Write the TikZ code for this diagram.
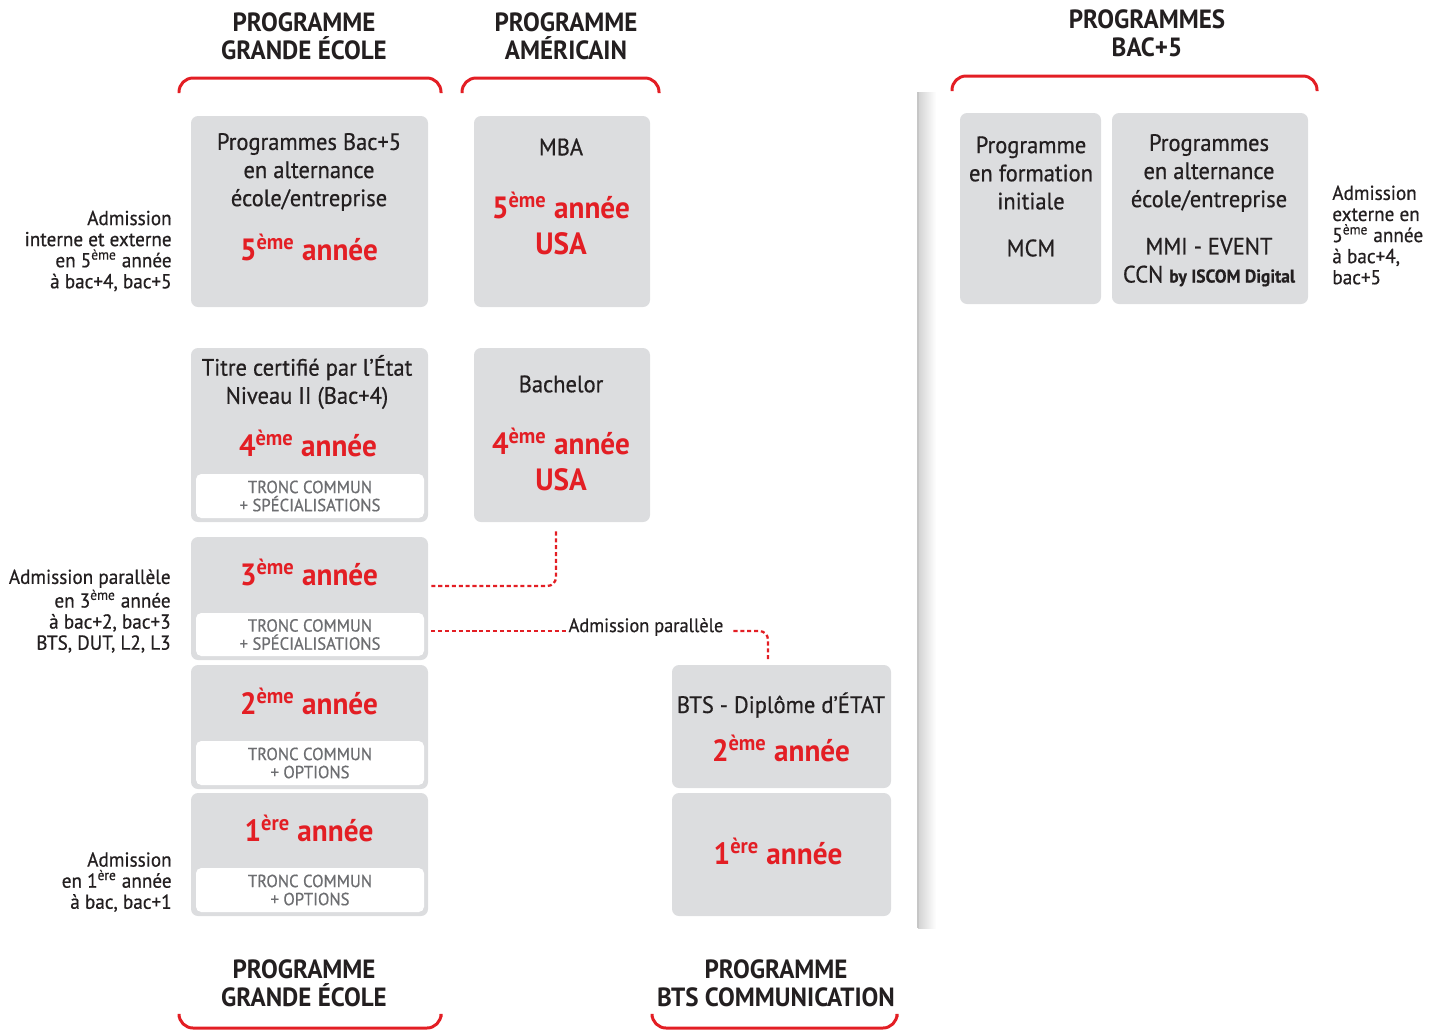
\documentclass[tikz,border=0pt]{standalone}
\usepackage{fontspec}
\setmainfont{PT Sans}[FakeStretch=0.95]
\newfontfamily\medfont{PT Sans}[FakeStretch=0.95, FakeBold=0.6]
\usetikzlibrary{positioning,fit}

\definecolor{iscomred}{HTML}{E31E24}
\definecolor{boxgray}{HTML}{DCDDDF}
\definecolor{inkdark}{HTML}{231F20}
\definecolor{troncgray}{HTML}{6D6E71}

\newcommand\supeme{\textsuperscript{ème}}
\newcommand\supere{\textsuperscript{ère}}

\tikzset{
  gbox/.style={fill=boxgray, rounded corners=4pt, inner sep=0pt},
  wbox/.style={fill=white, rounded corners=3pt, inner sep=0pt},
  txt/.style={text=inkdark, align=center, font=\fontsize{13.5}{16}\medfont, inner sep=0pt},
  annee/.style={text=iscomred, align=center, font=\fontsize{17.5}{20.5}\selectfont\bfseries, inner sep=0pt},
  tronc/.style={text=troncgray, align=center, font=\fontsize{10}{10.3}\medfont, inner sep=0pt},
  titre/.style={text=inkdark, align=center, font=\fontsize{15}{16}\selectfont\bfseries, inner sep=0pt},
  adm/.style={text=inkdark, font=\fontsize{11.5}{12}\medfont, inner sep=0pt},
  bracket/.style={draw=iscomred, line width=1.7pt, rounded corners=8pt},
  dashline/.style={draw=iscomred, line width=1.3pt, dash pattern=on 2.3pt off 1.6pt, rounded corners=5pt},
}

\begin{document}
\begin{tikzpicture}[x=0.02cm, y=-0.02cm]
\useasboundingbox (0,0) rectangle (1436,1029);

% titles and brackets
\node[titre] (t-ge) at (304,36) {PROGRAMME\\GRANDE ÉCOLE};
\node[titre] (t-am) at (566,36) {PROGRAMME\\AMÉRICAIN};
\node[titre] (t-b5) at (1147,33) {PROGRAMMES\\BAC+5};
\node[titre] (b-ge) at (304,983) {PROGRAMME\\GRANDE ÉCOLE};
\node[titre] (b-bts) at (776,983) {PROGRAMME\\BTS COMMUNICATION};
\draw[bracket] (179,93) |- (441,78) -- (441,93);
\draw[bracket] (462,93) |- (659,78) -- (659,93);
\draw[bracket] (952,91) |- (1317,76) -- (1317,91);
\draw[bracket] (179,1017) |- (441,1028) -- (441,1017);
\draw[bracket] (652,1017) |- (897,1028) -- (897,1017);

% separator
\shade[left color=gray!35, right color=white] (918,92) rectangle (936,928);
\draw[gray!45, line width=0.6pt] (918,92) -- (918,928);

% grande ecole
\node[gbox, fit={(191,116) (428,307)}] (ge5) {};
\node[txt] (ge5-t) at (309,172) {Programmes Bac+5\\en alternance\\école/entreprise};
\node[annee] (ge5-a) at (309,247) {5\supeme{} année};

\node[gbox, fit={(191,348) (428,522)}] (ge4) {};
\node[wbox, fit={(196,474) (424,518)}] (ge4-w) {};
\node[txt] (ge4-t) at (307,382) {Titre certifié par l’État\\Niveau II (Bac+4)};
\node[annee] (ge4-a) at (308,443) {4\supeme{} année};
\node[tronc] (ge4-c) at (ge4-w) {TRONC COMMUN\\+ SPÉCIALISATIONS};

\node[gbox, fit={(191,537) (428,660)}] (ge3) {};
\node[wbox, fit={(196,613) (424,656)}] (ge3-w) {};
\node[annee] (ge3-a) at (309,572) {3\supeme{} année};
\node[tronc] (ge3-c) at (ge3-w) {TRONC COMMUN\\+ SPÉCIALISATIONS};

\node[gbox, fit={(191,665) (428,789)}] (ge2) {};
\node[wbox, fit={(196,741) (424,785)}] (ge2-w) {};
\node[annee] (ge2-a) at (309,701) {2\supeme{} année};
\node[tronc] (ge2-c) at (ge2-w) {TRONC COMMUN\\+ OPTIONS};

\node[gbox, fit={(191,793) (428,916)}] (ge1) {};
\node[wbox, fit={(196,868) (424,912)}] (ge1-w) {};
\node[annee] (ge1-a) at (309,828) {1\supere{} année};
\node[tronc] (ge1-c) at (ge1-w) {TRONC COMMUN\\+ OPTIONS};

% americain
\node[gbox, fit={(474,116) (650,307)}] (mba) {};
\node[txt] (mba-t) at (561,147) {MBA};
\node[annee] (mba-a) at (561,223) {5\supeme{} année\\USA};

\node[gbox, fit={(474,348) (650,522)}] (bach) {};
\node[txt] (bach-t) at (561,384) {Bachelor};
\node[annee] (bach-a) at (561,459) {4\supeme{} année\\USA};

% bts
\node[gbox, fit={(672,665) (891,788)}] (bts2) {};
\node[txt] (bts2-t) at (781,705) {BTS - Diplôme d’ÉTAT};
\node[annee] (bts2-a) at (781,748) {2\supeme{} année};
\node[gbox, fit={(672,793) (891,916)}] (bts1) {};
\node[annee] (bts1-a) at (778,851) {1\supere{} année};

% bac+5
\node[gbox, fit={(960,113) (1101,304)}] (mcm) {};
\node[txt] (mcm-t) at (1031,173) {Programme\\en formation\\initiale};
\node[txt] (mcm-n) at (1031,248) {MCM};
\node[gbox, fit={(1112,113) (1308,304)}] (mmi) {};
\node[txt] (mmi-t) at (1209,173) {Programmes\\en alternance\\école/entreprise};
\node[txt] (mmi-n) at (1209,262) {MMI - EVENT\\CCN {\fontsize{10.5}{12}\selectfont\bfseries by ISCOM Digital}};

% admissions
\node[adm, align=right, anchor=east] (adm5) at (172,251) {Admission\\interne et externe\\en 5\supeme{} année\\à bac+4, bac+5};
\node[adm, align=right, anchor=east] (adm3) at (171,611) {Admission parallèle\\en 3\supeme{} année\\à bac+2, bac+3\\BTS, DUT, L2, L3};
\node[adm, align=right, anchor=east] (adm1) at (172,882) {Admission\\en 1\supere{} année\\à bac, bac+1};
\node[adm, align=left, anchor=west] (admext) at (1332,235) {Admission\\externe en\\5\supeme{} année\\à bac+4,\\bac+5};

% admission parallele
\node[adm, font=\fontsize{11}{12}\medfont, inner xsep=1pt] (admpar) at (646,627) {Admission parallèle};
\draw[dashline] ([shift={(3,-12.5)}]ge3.east) -| ([shift={(-6,9)}]bach.south);
\draw[dashline] ([shift={(3,32.5)}]ge3.east) -- (admpar.west |- 0,631);
\draw[dashline] ([shift={(8,0)}]admpar.east |- 0,631) -| ([shift={(-13.5,-3)}]bts2.north);
\end{tikzpicture}
\end{document}
